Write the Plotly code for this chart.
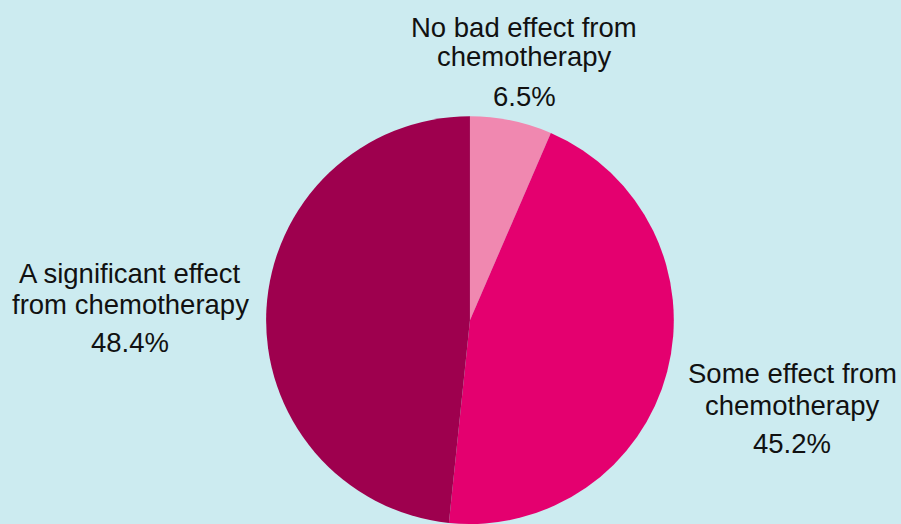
import plotly.graph_objects as go

labels = ["No bad effect from chemotherapy", "Some effect from chemotherapy", "A significant effect from chemotherapy"]
label_line1 = ["No bad effect from", "Some effect from", "A significant effect"]
label_line2 = ["chemotherapy", "chemotherapy", "from chemotherapy"]
values = [6.5, 45.2, 48.4]
colors = ["#F088B0", "#E4006F", "#9E004E"]

W, H = 901, 524
BG = "#CCEBF0"
FONT = "Liberation Sans, Arial, sans-serif"
FS = 27.5
BASE_OFF = 9  # distance from baseline to annotation box bottom

fig = go.Figure(go.Pie(
    labels=labels, values=values, sort=False, direction="clockwise", rotation=0,
    marker=dict(colors=colors, line=dict(width=0)),
    textinfo="none", hoverinfo="label+percent", showlegend=False,
    domain=dict(x=[0.2941, 0.7491], y=[0.0, 0.778]),
))

# label layout: centre x, baselines of line1, line2, percentage (pixels from top)
label_pos = [(524, 36, 65, 105), (792, 382, 414, 452), (130, 282, 313, 351)]
annotations = []
for (cx, b1, b2, b3), l1, l2, v in zip(label_pos, label_line1, label_line2, values):
    for txt, b in ((l1, b1), (l2, b2), (f"{v}%", b3)):
        annotations.append(dict(x=cx / W, y=1 - (b + BASE_OFF) / H, xref="paper", yref="paper",
                                text=txt, showarrow=False, xanchor="center", yanchor="bottom",
                                font=dict(family=FONT, size=FS, color="#111111")))

fig.update_layout(width=W, height=H, margin=dict(l=0, r=0, t=0, b=0),
                  paper_bgcolor=BG, plot_bgcolor=BG, annotations=annotations,
                  font=dict(family=FONT))
fig.write_html("out.html", config={"displayModeBar": False},
               post_script="document.body.style.margin='0';document.body.style.overflow='hidden';")
